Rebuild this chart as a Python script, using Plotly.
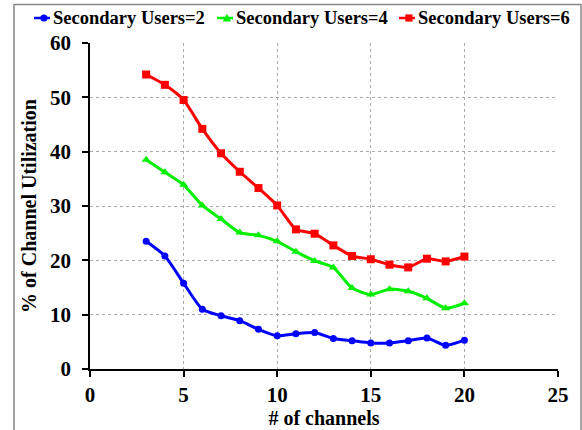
import plotly.graph_objects as go

# Number of channels
channels = list(range(3, 21))

# % of channel utilization per number of secondary users
su2 = [23.5, 20.8, 15.8, 11.0, 9.8, 8.9, 7.3, 6.1, 6.5, 6.7, 5.6, 5.2, 4.8, 4.8, 5.2, 5.7, 4.35, 5.3]
su4 = [38.5, 36.2, 33.9, 30.1, 27.6, 25.1, 24.6, 23.5, 21.6, 19.9, 18.7, 14.9, 13.7, 14.7, 14.3, 13.0, 11.2, 12.1]
su6 = [54.2, 52.3, 49.5, 44.2, 39.7, 36.3, 33.3, 30.1, 25.7, 24.9, 22.75, 20.8, 20.2, 19.2, 18.7, 20.3, 19.8, 20.7]

series_names = ["Secondary Users=2", "Secondary Users=4", "Secondary Users=6"]
series_colors = ["#0000FF", "#00EE00", "#FF0000"]
series_symbols = ["circle", "triangle-up", "square"]
x_ticks = [0, 5, 10, 15, 20, 25]
y_ticks = [0, 10, 20, 30, 40, 50, 60]

FONT = "Liberation Serif, Times New Roman, serif"
W, H = 582, 430
ML, MR, MT, MB = 90, 24, 43, 61
PW, PH = W - ML - MR, H - MT - MB


def px_x(px):
    """Pixel column -> paper x fraction."""
    return (px - ML) / PW


def px_y(py):
    """Pixel row (from top) -> paper y fraction."""
    return (H - MB - py) / PH


fig = go.Figure()
for name, vals, color, symbol in zip(series_names, [su2, su4, su6], series_colors, series_symbols):
    fig.add_trace(go.Scatter(
        x=channels, y=vals, name=name, mode="lines+markers",
        line=dict(color=color, width=3, shape="spline", smoothing=0.6),
        marker=dict(color=color, symbol=symbol, size=8 if symbol != "circle" else 7),
    ))

axis_common = dict(
    showline=True, linecolor="black", linewidth=1.5,
    ticks="outside", ticklen=6, tickwidth=1.5, tickcolor="black",
    showgrid=True, gridcolor="#aaaaaa", griddash="dot", gridwidth=1,
    zeroline=False,
    tickfont=dict(family=FONT, size=21, color="black"),
)

fig.update_xaxes(
    range=[0, 25], tickvals=x_ticks, ticktext=[f"<b>{v}</b>" for v in x_ticks],
    ticklabelstandoff=0,
    title=dict(text="<b># of channels</b>", font=dict(family=FONT, size=20, color="black"), standoff=0),
    **axis_common,
)
fig.update_yaxes(
    range=[0, 60], tickvals=y_ticks, ticktext=[f"<b>{v}</b>" for v in y_ticks],
    ticklabelstandoff=7,
    title=dict(text="<b>% of Channel Utilization</b>", font=dict(family=FONT, size=20, color="black"), standoff=8),
    **axis_common,
)

shapes = []
# Gray frame around the whole chart
shapes.append(dict(type="rect", xref="paper", yref="paper",
                   x0=px_x(14), x1=px_x(581), y0=px_y(H + 5), y1=px_y(4.5),
                   line=dict(color="#888888", width=1.5), fillcolor="rgba(0,0,0,0)", layer="below"))

# Legend row: short line key with its marker, then the bold label
legend_key_left = [34, 217, 399]
key_len, key_y, r = 16, 18, 3.6
annotations = []
for name, color, symbol, kx in zip(series_names, series_colors, series_symbols, legend_key_left):
    shapes.append(dict(type="line", xref="paper", yref="paper",
                       x0=px_x(kx), x1=px_x(kx + key_len), y0=px_y(key_y), y1=px_y(key_y),
                       line=dict(color=color, width=2.5)))
    cx = kx + key_len * 0.62
    if symbol == "circle":
        shapes.append(dict(type="circle", xref="paper", yref="paper",
                           x0=px_x(cx - r), x1=px_x(cx + r), y0=px_y(key_y + r), y1=px_y(key_y - r),
                           fillcolor=color, line=dict(width=0)))
    elif symbol == "square":
        shapes.append(dict(type="rect", xref="paper", yref="paper",
                           x0=px_x(cx - r), x1=px_x(cx + r), y0=px_y(key_y + r), y1=px_y(key_y - r),
                           fillcolor=color, line=dict(width=0)))
    else:
        path = (f"M {px_x(cx - r - 0.6)},{px_y(key_y + r)} "
                f"L {px_x(cx + r + 0.6)},{px_y(key_y + r)} "
                f"L {px_x(cx)},{px_y(key_y - r - 0.6)} Z")
        shapes.append(dict(type="path", xref="paper", yref="paper", path=path,
                           fillcolor=color, line=dict(width=0)))
    annotations.append(dict(
        xref="paper", yref="paper", x=px_x(kx + key_len + 1), y=px_y(key_y),
        xanchor="left", yanchor="middle", showarrow=False,
        text=f"<b>{name}</b>", font=dict(family=FONT, size=18.5, color="black"),
    ))

fig.update_layout(
    width=W, height=H,
    margin=dict(l=ML, r=MR, t=MT, b=MB, autoexpand=False),
    plot_bgcolor="white", paper_bgcolor="white",
    font=dict(family=FONT, color="black"),
    showlegend=False,
    shapes=shapes,
    annotations=annotations,
)

fig.write_html("out.html")
